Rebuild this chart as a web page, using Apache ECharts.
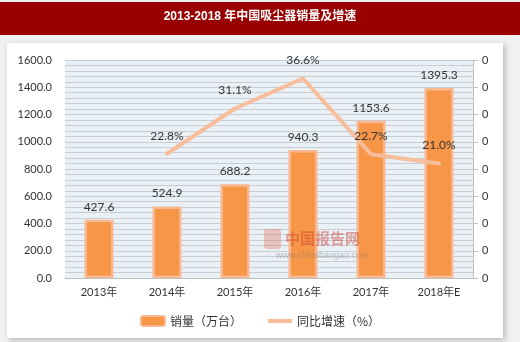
<!DOCTYPE html>
<html>
<head>
<meta charset="utf-8">
<script src="https://cdn.jsdelivr.net/npm/echarts@6/dist/echarts.min.js"></script>
<style>
  html, body { margin: 0; padding: 0; background: #f1f1f1; }
  #chart { width: 520px; height: 342px; }
</style>
</head>
<body>
<div id="chart"></div>
<script>
// Vacuum cleaner sales in China, 2013-2018 (estimate for 2018)
const titleText = '2013-2018 年中国吸尘器销量及增速';
const years = ['2013年', '2014年', '2015年', '2016年', '2017年', '2018年E'];
const sales = [427.6, 524.9, 688.2, 940.3, 1153.6, 1395.3];          // 万台
const growth = [null, 22.8, 31.1, 36.6, 22.7, 21.0];                  // %
const salesName = '销量（万台）';
const growthName = '同比增速（%）';

const numFont = 'Lato, "Noto Sans CJK SC", sans-serif';
const cjkFont = '"Noto Sans CJK SC", sans-serif';

const chart = echarts.init(document.getElementById('chart'), null, { renderer: 'canvas' });

chart.setOption({
  animation: false,
  backgroundColor: '#f1f1f1',
  graphic: [
    // header banner
    { type: 'rect', z: -10, shape: { x: 0, y: 2, width: 520, height: 33 }, style: { fill: '#990000' } },
    { type: 'text', z: 10, left: 'center', top: 11,
      style: { text: titleText, fill: '#ffffff', font: 'bold 12px "Liberation Sans", "Noto Sans CJK SC", sans-serif' } },
    // white card
    { type: 'rect', z: -10, shape: { x: 7, y: 43, width: 496, height: 295 },
      style: { fill: '#ffffff', shadowBlur: 6, shadowColor: 'rgba(0,0,0,0.25)', shadowOffsetX: 2, shadowOffsetY: 2 } },
    // watermark
    { type: 'rect', z: 20, shape: { x: 264, y: 229, width: 17, height: 20, r: 3 },
      style: { fill: 'rgba(230,110,80,0.35)' } },
    { type: 'text', z: 20, left: 285, top: 231,
      style: { text: '中国报告网', fill: 'rgba(205,60,45,0.45)', font: 'bold 15px "Noto Sans CJK SC", sans-serif' } },
    { type: 'text', z: 20, left: 276, top: 251,
      style: { text: 'www.chinabaogao.com', fill: 'rgba(120,120,120,0.45)', font: '9px "Liberation Sans", sans-serif' } }
  ],
  grid: {
    left: 65, right: 47, top: 60, bottom: 64,
    show: true, backgroundColor: '#e9f0f6', borderWidth: 0
  },
  legend: {
    top: 310, left: 'center',
    itemGap: 26,
    itemWidth: 24, itemHeight: 10,
    textStyle: { fontFamily: cjkFont, fontSize: 12, color: '#333' },
    data: [
      { name: salesName, icon: 'roundRect', itemStyle: { color: '#f79646', borderColor: '#f9b88f', borderWidth: 2 } },
      { name: growthName, icon: 'path://M0,4 L24,4 L24,8 L0,8 Z', itemStyle: { color: '#f8bd9b', opacity: 1 } }
    ]
  },
  xAxis: {
    type: 'category',
    data: years,
    axisLine: { show: true, lineStyle: { color: '#bfbfbf', width: 1 } },
    axisTick: { show: false },
    axisLabel: { color: '#333', fontSize: 11, fontFamily: numFont, margin: 9 }
  },
  yAxis: [
    {
      type: 'value', min: 0, max: 1600, interval: 200,
      axisLine: { show: false }, axisTick: { show: false },
      axisLabel: { color: '#333', fontSize: 11, fontFamily: numFont, margin: 13,
                   formatter: v => v.toFixed(1) },
      splitLine: { show: true, lineStyle: { color: '#c9cdd1', width: 1 } },
      minorTick: { show: false, splitNumber: 5 },
      minorSplitLine: { show: true, lineStyle: { color: '#c9cdd1', width: 1 } }
    },
    {
      type: 'value', min: 0, max: 40, interval: 5,
      position: 'right',
      axisLine: { show: true, lineStyle: { color: '#bfbfbf' } },
      axisTick: { show: true, length: 5, lineStyle: { color: '#bfbfbf' } },
      axisLabel: { color: '#333', fontSize: 11, fontFamily: numFont, margin: 9, formatter: () => '0' },
      splitLine: { show: false }
    }
  ],
  series: [
    {
      name: salesName, type: 'bar', yAxisIndex: 0,
      data: sales, barWidth: 29,
      itemStyle: { color: '#f79646', borderColor: '#f9b88f', borderWidth: 2.5 },
      label: { show: true, position: 'top', distance: 7, color: '#333', fontSize: 12, fontFamily: numFont,
               formatter: p => p.value.toFixed(1) }
    },
    {
      name: growthName, type: 'line', yAxisIndex: 1,
      data: growth, showSymbol: true, symbol: 'circle', symbolSize: 4,
      lineStyle: { color: '#f8bd9b', width: 4 },
      itemStyle: { color: '#f8bd9b' },
      label: { show: true, position: 'top', distance: 10, color: '#333', fontSize: 12, fontFamily: numFont,
               formatter: p => p.value.toFixed(1) + '%' },
      labelLayout: { hideOverlap: false },
      z: 3
    }
  ]
});
</script>
</body>
</html>
